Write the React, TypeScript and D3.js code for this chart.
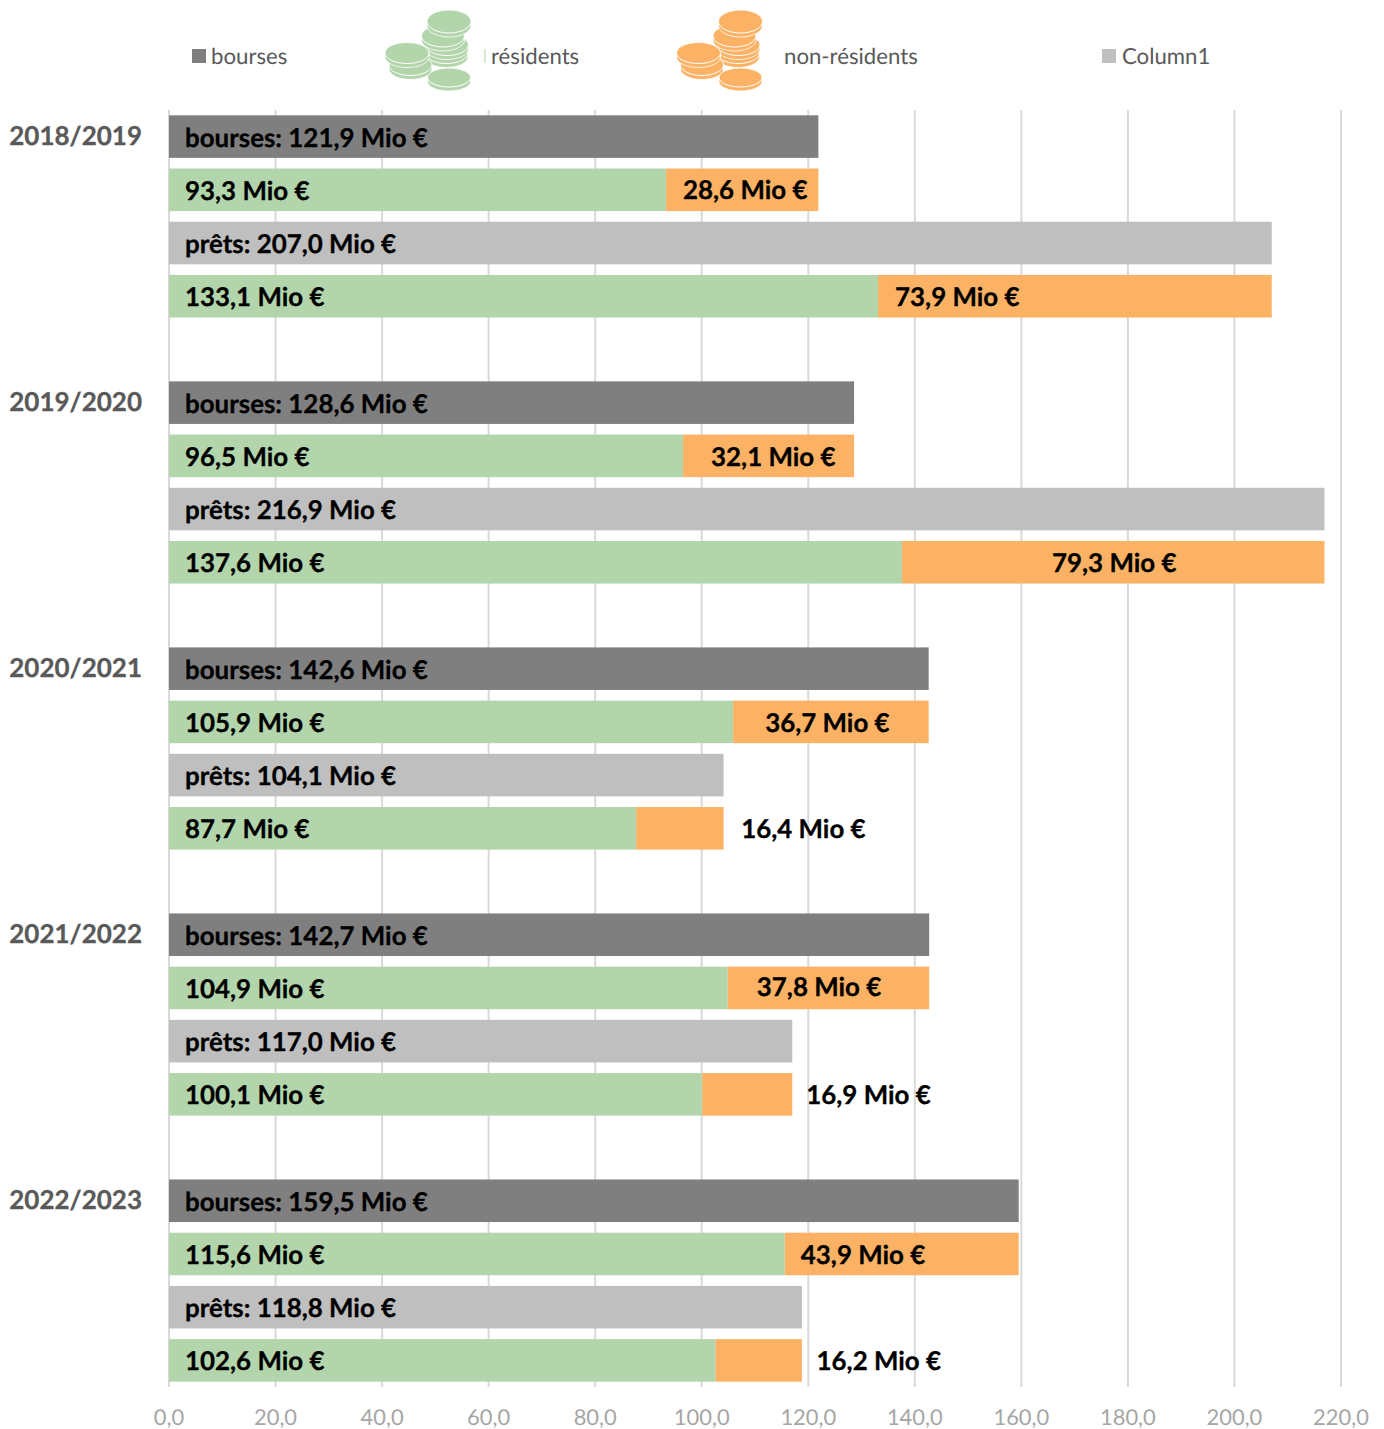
import React from "react";
import * as d3 from "d3";

const years = ["2018/2019", "2019/2020", "2020/2021", "2021/2022", "2022/2023"];
const bourses = [121.9, 128.6, 142.6, 142.7, 159.5];
const boursesResidents = [93.3, 96.5, 105.9, 104.9, 115.6];
const boursesNonResidents = [28.6, 32.1, 36.7, 37.8, 43.9];
const prets = [207.0, 216.9, 104.1, 117.0, 118.8];
const pretsResidents = [133.1, 137.6, 87.7, 100.1, 102.6];
const pretsNonResidents = [73.9, 79.3, 16.4, 16.9, 16.2];
const ticks = d3.range(0, 221, 20);
const legendItems = ["bourses", "résidents", "non-résidents", "Column1"];

// Layout: manual label offsets (px after the residents bar end)
const boursesLabelOffset = [17, 28, 32, 29, 16];
const pretsLabelOffset = [17, 150, 105, 104, 101];
const boursesLabelNudge = [-1, 0, 0, -2, 0];

const C = { dark: "#7f7f7f", green: "#b3d5ab", orange: "#fbb265", grey: "#bfbfbf", grid: "#d9d9d9", text: "#595959", axis: "#a6a6a6" };
const FONT = "Lato, sans-serif";

const x = d3.scaleLinear().domain([0, 220]).range([169, 1341]);
const rows = d3.scaleBand<number>().domain(d3.range(24)).range([110, 1387]).paddingInner(0.2).paddingOuter(0.1);
const fmt = (v: number) => v.toFixed(1).replace(".", ",");

// coin stack: [cx, cy, rx, ry] drawn back to front
const coins: [number, number, number, number][] = [
  [449, 77.5, 21.5, 9.5], [446.5, 53, 21.5, 10.5], [447, 45, 21.5, 10.5], [443, 36, 21.5, 11], [449, 21.5, 22, 11.5],
  [410.5, 65, 21.5, 10.5], [407, 53, 22, 10.5],
];

function Coin({ c, fill, dx }: { c: number[]; fill: string; dx: number }) {
  const [cx, cy, rx, ry] = c;
  const t = 4;
  return (
    <g>
      <path
        d={`M${cx + dx - rx},${cy} A${rx},${ry} 0 0 1 ${cx + dx + rx},${cy} V${cy + t} A${rx},${ry} 0 0 1 ${cx + dx - rx},${cy + t} Z`}
        fill={fill}
        stroke="#fff"
        strokeWidth={0.8}
      />
      <path
        d={`M${cx + dx - rx},${cy} A${rx},${ry} 0 0 0 ${cx + dx + rx},${cy}`}
        fill="none"
        stroke="#fff"
        strokeWidth={1}
      />
    </g>
  );
}

const Label = ({ px, y, children }: { px: number; y: number; children: React.ReactNode }) => (
  <text x={px} y={y + 1} dy="0.35em" fontFamily={FONT} fontWeight={700} fontSize={25.9} fill="#000" stroke="#000" strokeWidth={0.3}>
    {children}
  </text>
);

function Bar({ x0, x1, row, fill }: { x0: number; x1: number; row: number; fill: string }) {
  return <rect x={x(x0)} y={rows(row)} width={x(x1) - x(x0)} height={rows.bandwidth()} fill={fill} />;
}

export default function App() {
  const mid = (r: number) => (rows(r) as number) + rows.bandwidth() / 2;
  return (
    <svg width={1384} height={1429} style={{ position: "absolute", left: 0, top: 0, display: "block" }} textRendering="geometricPrecision">
      <rect width={1384} height={1429} fill="#fff" />
      {ticks.map((t) => (
        <line key={t} x1={x(t)} x2={x(t)} y1={110} y2={1387} stroke={C.grid} strokeWidth={2} />
      ))}
      {ticks.map((t) => (
        <text key={t} x={x(t)} y={1425} textAnchor="middle" fontFamily={FONT} fontSize={21.9} fill={C.axis}>
          {fmt(t)}
        </text>
      ))}

      {/* legend */}
      <rect x={192} y={49} width={14} height={14} fill={C.dark} />
      <text x={211} y={63.5} fontFamily={FONT} fontSize={22.2} fill={C.text}>{legendItems[0]}</text>
      {coins.map((c, i) => <Coin key={i} c={c} fill={C.green} dx={0} />)}
      <rect x={484.5} y={49} width={1} height={14} fill={C.green} />
      <text x={491} y={63.5} fontFamily={FONT} fontSize={22.2} fill={C.text}>{legendItems[1]}</text>
      {coins.map((c, i) => <Coin key={i} c={c} fill={C.orange} dx={291.5} />)}
      <text x={784} y={63.5} fontFamily={FONT} fontSize={22.2} fill={C.text}>{legendItems[2]}</text>
      <rect x={1102} y={49} width={14} height={14} fill={C.grey} />
      <text x={1122} y={63.5} fontFamily={FONT} fontSize={22.2} fill={C.text}>{legendItems[3]}</text>

      {years.map((yr, i) => {
        const r = i * 5;
        return (
          <g key={yr}>
            <text x={142} y={mid(r) + 0.5} dy="0.3em" textAnchor="end" fontFamily={FONT} fontWeight={700} fontSize={26} fill={C.text} stroke={C.text} strokeWidth={0.3}>
              {yr}
            </text>
            <Bar x0={0} x1={bourses[i]} row={r} fill={C.dark} />
            <Bar x0={0} x1={boursesResidents[i]} row={r + 1} fill={C.green} />
            <Bar x0={boursesResidents[i]} x1={boursesResidents[i] + boursesNonResidents[i]} row={r + 1} fill={C.orange} />
            <Bar x0={0} x1={prets[i]} row={r + 2} fill={C.grey} />
            <Bar x0={0} x1={pretsResidents[i]} row={r + 3} fill={C.green} />
            <Bar x0={pretsResidents[i]} x1={pretsResidents[i] + pretsNonResidents[i]} row={r + 3} fill={C.orange} />
            <Label px={185} y={mid(r)}>bourses: {fmt(bourses[i])} Mio €</Label>
            <Label px={185} y={mid(r + 1)}>{fmt(boursesResidents[i])} Mio €</Label>
            <Label px={x(boursesResidents[i]) + boursesLabelOffset[i]} y={mid(r + 1) + boursesLabelNudge[i]}>
              {fmt(boursesNonResidents[i])} Mio €
            </Label>
            <Label px={185} y={mid(r + 2)}>prêts: {fmt(prets[i])} Mio €</Label>
            <Label px={185} y={mid(r + 3)}>{fmt(pretsResidents[i])} Mio €</Label>
            <Label px={x(pretsResidents[i]) + pretsLabelOffset[i]} y={mid(r + 3)}>
              {fmt(pretsNonResidents[i])} Mio €
            </Label>
          </g>
        );
      })}
    </svg>
  );
}
